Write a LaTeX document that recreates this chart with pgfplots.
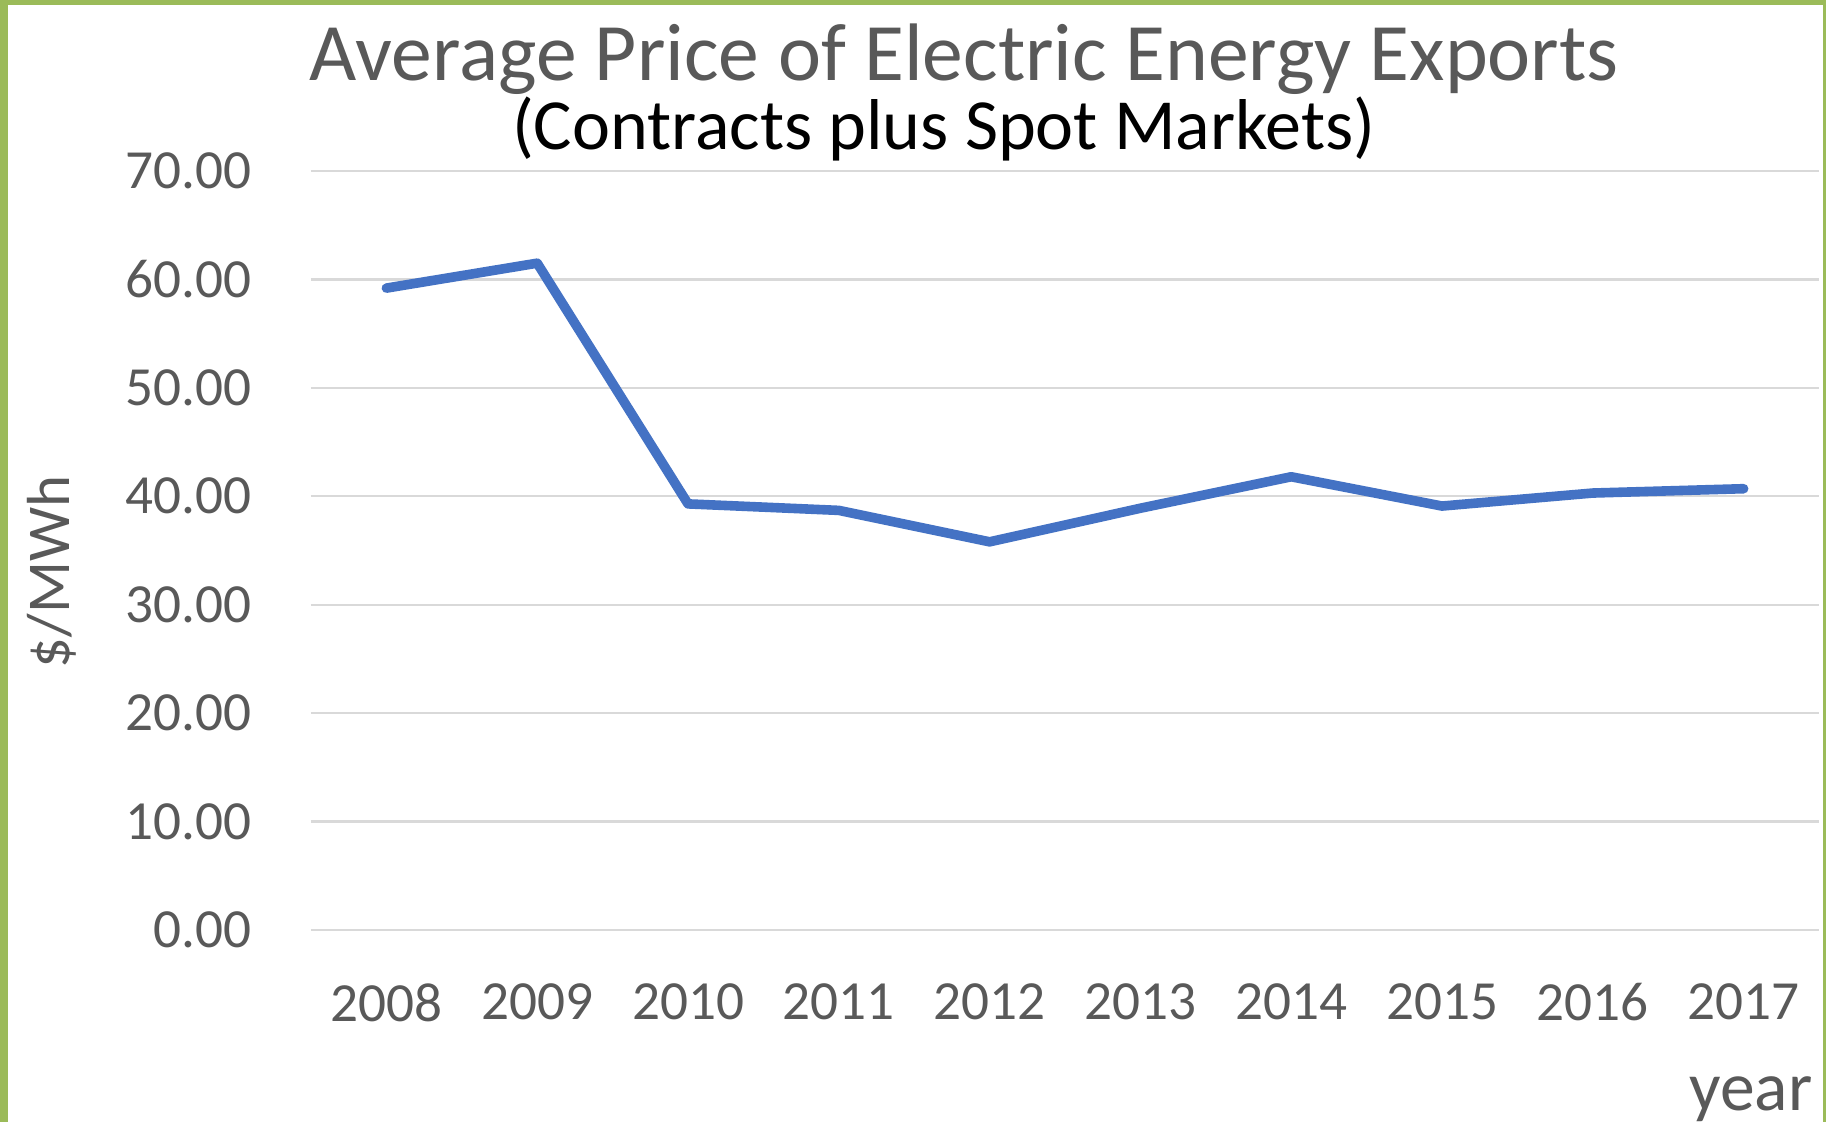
\documentclass[border=0pt]{standalone}
\usepackage{pgfplots}
\pgfplotsset{compat=1.18}
\usepackage{fontspec}
\setmainfont{Carlito}
\definecolor{xlblue}{HTML}{4472C4}
\definecolor{xlgray}{HTML}{595959}
\definecolor{xlgrid}{HTML}{D9D9D9}
\definecolor{xlgreen}{HTML}{9BBB59}
\begin{document}
\begin{tikzpicture}
\path[use as bounding box] (-77.75bp,-48bp) rectangle (378.75bp,232.5bp);
\fill[white] (-77.75bp,-48bp) rectangle (378.75bp,232.5bp);
\begin{axis}[
  at={(0,0)}, anchor=south west,
  scale only axis, width=377bp, height=189.75bp,
  xmin=-0.5, xmax=9.5, ymin=0, ymax=70,
  xtick={0,...,9},
  xticklabels={2008,2009,2010,2011,2012,2013,2014,2015,2016,2017},
  ytick={0,10,...,70},
  yticklabel={\pgfmathprintnumber[fixed,fixed zerofill,precision=2]{\tick}},
  /pgf/number format/assume math mode=true,
  axis line style={draw=none},
  major tick length=0pt,
  ymajorgrids, grid style={xlgrid, line width=0.6bp},
  tick label style={font=\fontsize{13.8bp}{15bp}\selectfont, text=xlgray},
  yticklabel style={anchor=east, inner sep=0pt, xshift=-14.6bp},
  xticklabel style={anchor=north, inner sep=0pt, yshift=-13.2bp},
  clip=false,
]
\addplot[xlblue, line width=2.4bp, line join=round, line cap=round] coordinates {
(0,59.2) (1,61.5) (2,39.3) (3,38.7) (4,35.8) (5,38.9) (6,41.8) (7,39.1) (8,40.3) (9,40.7)};
\end{axis}
\node[anchor=base, text=xlgray, inner sep=0pt, font=\fontsize{20.4bp}{23bp}\selectfont] at (163.3bp,212.3bp) {Average Price of Electric Energy Exports};
\node[anchor=base, text=black, inner sep=0pt, font=\fontsize{18bp}{21bp}\selectfont] at (158.2bp,195.2bp) {(Contracts plus Spot Markets)};
\node[rotate=90, anchor=center, text=xlgray, inner sep=0pt, font=\fontsize{15.2bp}{18bp}\selectfont] at (-64.75bp,89.5bp) {\$/MWh};
\node[anchor=base east, text=xlgray, inner sep=0pt, font=\fontsize{17.4bp}{20bp}\selectfont] at (375.5bp,-45bp) {year};
\fill[xlgreen] (-77.75bp,-48bp) rectangle (-75.75bp,232.5bp);
\fill[xlgreen] (-77.75bp,231.25bp) rectangle (378.75bp,232.5bp);
\fill[xlgreen] (378bp,-48bp) rectangle (378.75bp,232.5bp);
\end{tikzpicture}
\end{document}
